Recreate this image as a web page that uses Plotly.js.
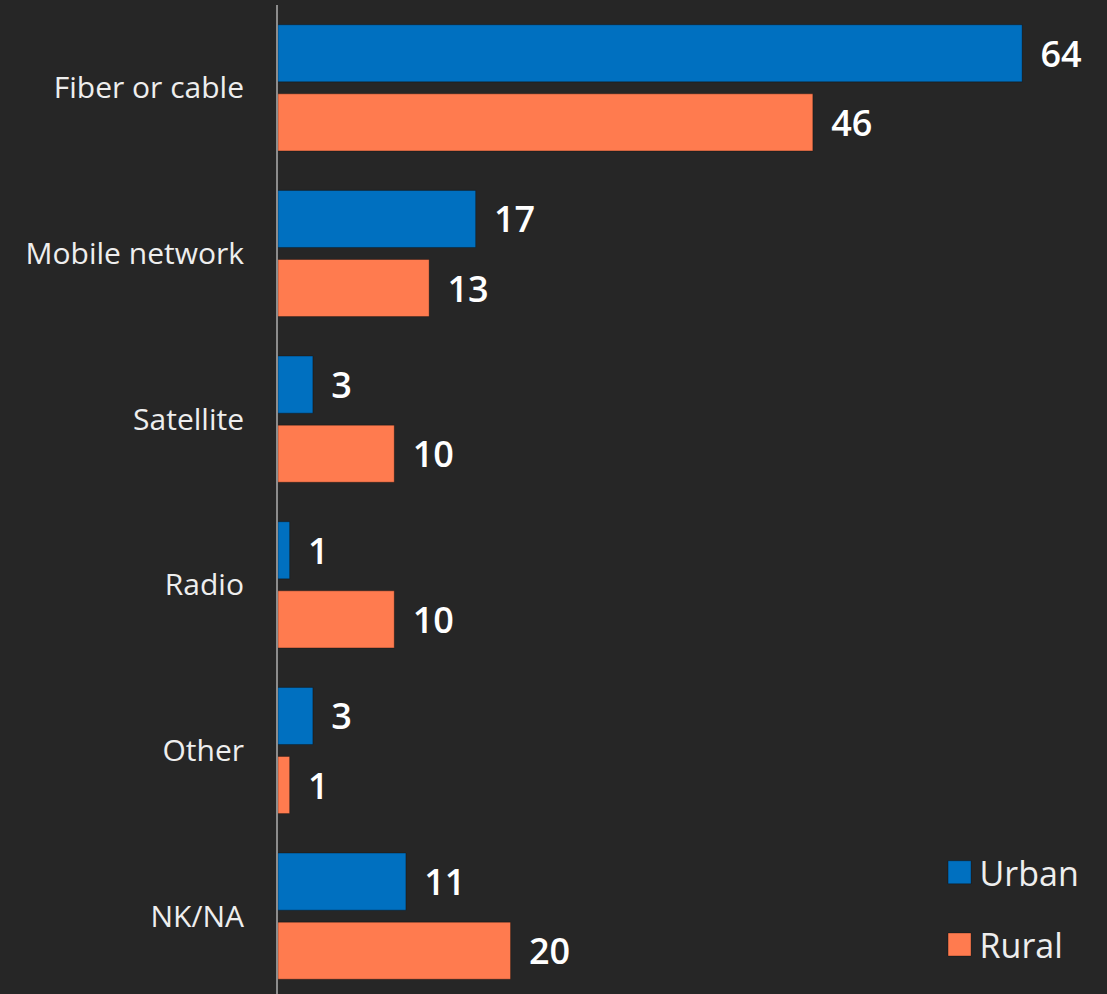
<!DOCTYPE html>
<html>
<head>
<meta charset="utf-8">
<script src="https://cdn.plot.ly/plotly-3.0.1.min.js"></script>
<style>
html,body{margin:0;padding:0;background:#262626;}
#chart{width:1107px;height:994px;}
</style>
</head>
<body>
<div id="chart"></div>
<script>
const categories = ["Fiber or cable", "Mobile network", "Satellite", "Radio", "Other", "NK/NA"];
const seriesNames = ["Urban", "Rural"];
const urbanValues = [64, 17, 3, 1, 3, 11];
const ruralValues = [46, 13, 10, 10, 1, 20];
const seriesColors = ["#0070C0", "#FF7B4F"];

const valueFont = {family: "Open Sans, Noto Sans, sans-serif", size: 36, color: "#ffffff", weight: 600};

function barTrace(name, values, color, group) {
  return {
    type: "bar",
    orientation: "h",
    name: name,
    y: categories,
    x: values,
    marker: {color: color, line: {color: "rgba(0,0,0,0.3)", width: 1}},
    text: values.map(String),
    texttemplate: "\u00a0\u2006%{text}",
    textposition: "outside",
    constraintext: "none",
    cliponaxis: false,
    textfont: valueFont,
    legendgroup: group,
    hoverinfo: "x+y+name"
  };
}

const data = [
  barTrace(seriesNames[0], urbanValues, seriesColors[0], "g1"),
  barTrace(seriesNames[1], ruralValues, seriesColors[1], "g2")
];

const layout = {
  width: 1107,
  height: 994,
  paper_bgcolor: "#262626",
  plot_bgcolor: "#262626",
  margin: {l: 278, r: 0, t: 5, b: 0, pad: 0},
  barmode: "group",
  bargap: 0.166,
  bargroupgap: 0.174,
  font: {family: "Open Sans, Noto Sans, sans-serif", color: "#eeeeee"},
  xaxis: {
    range: [0, 71.3],
    showgrid: false,
    zeroline: false,
    showticklabels: false,
    showline: false,
    fixedrange: true
  },
  yaxis: {
    type: "category",
    range: [5.47, -0.5],
    showgrid: false,
    zeroline: false,
    showline: true,
    linecolor: "#8c8c8c",
    linewidth: 2,
    ticks: "",
    ticklabelstandoff: 26,
    tickfont: {family: "Open Sans, Noto Sans, sans-serif", size: 30, color: "#eeeeee"},
    fixedrange: true
  },
  showlegend: true,
  legend: {
    x: 0.798,
    xanchor: "left",
    y: 0.152,
    yanchor: "top",
    bgcolor: "rgba(0,0,0,0)",
    font: {family: "Open Sans, Noto Sans, sans-serif", size: 34, color: "#eeeeee"},
    traceorder: "grouped",
    tracegroupgap: 25,
    itemwidth: 30
  }
};

Plotly.newPlot("chart", data, layout, {displayModeBar: false, staticPlot: true}).then(function(gd) {
  gd.querySelectorAll(".legend .legendpoints path").forEach(function(p) {
    p.setAttribute("d", "M11.5,11.5H-11.5V-11.5H11.5Z");
  });
});
</script>
</body>
</html>
